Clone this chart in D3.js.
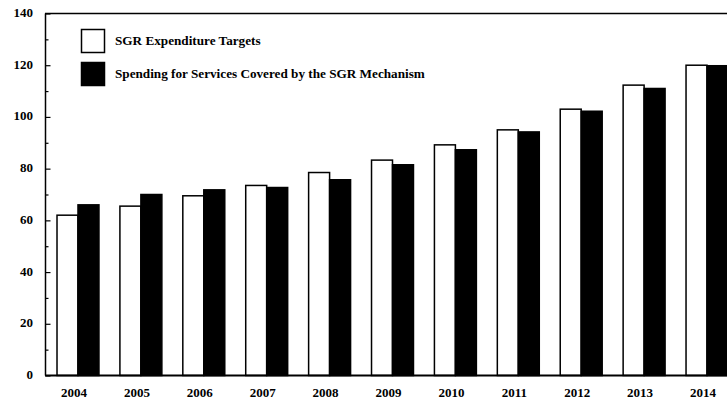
<!DOCTYPE html>
<html><head><meta charset="utf-8">
<script src="https://cdn.jsdelivr.net/npm/d3@7"></script>
<style>body{margin:0;background:#fff}svg{display:block}</style>
</head><body>
<script>
const years = ["2004","2005","2006","2007","2008","2009","2010","2011","2012","2013","2014"];
const targets = [62, 65.5, 69.5, 73.5, 78.5, 83.3, 89.2, 95, 103, 112.3, 120];
const spending = [66, 70, 71.8, 72.7, 75.7, 81.5, 87.3, 94.2, 102.2, 111, 119.8];
const seriesNames = ["SGR Expenditure Targets", "Spending for Services Covered by the SGR Mechanism"];
const yTicks = [0, 20, 40, 60, 80, 100, 120, 140];

const W = 727, H = 405;
const svg = d3.select("body").append("svg").attr("width", W).attr("height", H);
const font = "'Liberation Serif', 'Times New Roman', serif";

const y = d3.scaleLinear().domain([0, 140]).range([375.5, 13.5]);
const x = d3.scaleBand().domain(years).range([46, 739]).paddingInner(0.333).paddingOuter(0.175);
const xs = d3.scaleBand().domain([0, 1]).range([0, x.bandwidth()]);

// top border
svg.append("line").attr("x1", 45).attr("x2", W).attr("y1", y(140)).attr("y2", y(140))
  .attr("stroke", "#000").attr("stroke-width", 1.5);

// bars
const g = svg.append("g");
years.forEach((yr, i) => {
  const vals = [targets[i], spending[i]];
  vals.forEach((v, s) => {
    g.append("rect")
      .attr("x", x(yr) + xs(s))
      .attr("y", y(v))
      .attr("width", xs.bandwidth())
      .attr("height", y(0) - y(v))
      .attr("fill", s === 0 ? "#fff" : "#000")
      .attr("stroke", "#000").attr("stroke-width", 1.5);
  });
});

// y axis
const yAxis = d3.axisRight(y).tickValues(yTicks).tickSize(5).tickFormat("");
const ya = svg.append("g").attr("transform", "translate(45.5,0)").call(yAxis);
ya.select(".domain").remove();
ya.selectAll("line").attr("stroke", "#000").attr("stroke-width", 1.2);
const yMinor = d3.axisRight(y).tickValues(d3.range(10, 140, 20)).tickSize(3).tickFormat("");
const ym = svg.append("g").attr("transform", "translate(45.5,0)").call(yMinor);
ym.select(".domain").remove();
ym.selectAll("line").attr("stroke", "#000").attr("stroke-width", 1.2);
svg.append("line").attr("x1", 45.5).attr("x2", 45.5).attr("y1", y(140)).attr("y2", y(0))
  .attr("stroke", "#000").attr("stroke-width", 1.5);

// y labels
svg.append("g").selectAll("text").data(yTicks).join("text")
  .attr("x", 33).attr("y", d => y(d) + 3.5)
  .attr("text-anchor", "end")
  .attr("font-family", font).attr("font-weight", "bold").attr("font-size", 13)
  .text(d => d);

// x axis line
svg.append("line").attr("x1", 45).attr("x2", W).attr("y1", y(0)).attr("y2", y(0))
  .attr("stroke", "#000").attr("stroke-width", 2);

// x labels
svg.append("g").selectAll("text").data(years).join("text")
  .attr("x", d => x(d) + x.bandwidth() / 2 - 4).attr("y", 397)
  .attr("text-anchor", "middle")
  .attr("font-family", font).attr("font-weight", "bold").attr("font-size", 13)
  .text(d => d);

// legend
const leg = svg.append("g");
seriesNames.forEach((name, i) => {
  const ly = 29 + i * 33;
  leg.append("rect").attr("x", 81.5).attr("y", ly + 0.5).attr("width", 23).attr("height", 23)
    .attr("fill", i === 0 ? "#fff" : "#000").attr("stroke", "#000").attr("stroke-width", 1.5);
  leg.append("text").attr("x", 115).attr("y", ly + 16)
    .attr("font-family", font).attr("font-weight", "bold").attr("font-size", 13.2)
    .text(name);
});
</script>
</body></html>
